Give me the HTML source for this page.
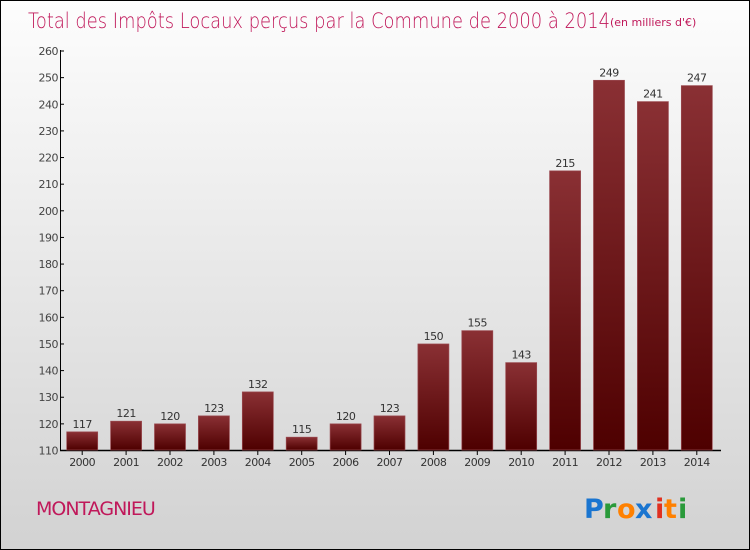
<!DOCTYPE html>
<html><head><meta charset="utf-8"><style>
body{margin:0}
#wrap{position:relative;width:748px;height:548px;border:1px solid #000;background:linear-gradient(#fdfdfd,#d2d2d2);font-family:"DejaVu Sans","Liberation Sans",sans-serif;overflow:hidden}
</style></head><body>
<div id="wrap">
<svg width="748" height="548" id="svg">
<defs><linearGradient id="bg" x1="0" y1="0" x2="0" y2="1"><stop offset="0" stop-color="#8a3034"/><stop offset="1" stop-color="#4e0000"/></linearGradient></defs>
<text x="27" y="27" font-size="21" fill="#c0185a" font-family="DejaVu Sans" font-weight="200" textLength="582" lengthAdjust="spacingAndGlyphs">Total des Impôts Locaux perçus par la Commune de 2000 à 2014</text>
<text x="609" y="25" font-size="11" fill="#c0185a">(en milliers d'€)</text>
<g id="axes"></g><g id="bars"></g>
<text x="35" y="514" font-size="19" fill="#c0185a" letter-spacing="-1">MONTAGNIEU</text>
<g font-size="27" font-family="DejaVu Sans" font-weight="bold">
<text x="583" y="517" fill="#1a75d0">P</text><text x="602" y="517" fill="#2a9a3a">r</text><text x="616" y="517" fill="#ff8000">o</text><text x="634" y="517" fill="#1a75d0">x</text><text x="654" y="517" fill="#e03020">i</text><text x="663" y="517" fill="#ff8000">t</text><text x="677" y="517" fill="#2a9a3a">i</text></g>
</svg></div>
<script>
const years=["2000","2001","2002","2003","2004","2005","2006","2007","2008","2009","2010","2011","2012","2013","2014"];
const values=[117,121,120,123,132,115,120,123,150,155,143,215,249,241,247];
const ticks=[110,120,130,140,150,160,170,180,190,200,210,220,230,240,250,260];
const NS="http://www.w3.org/2000/svg";
const y=v=>449.5-(v-110)*(399.5/150);
const xc=i=>81.2+43.9*i;
function mk(t,a,p){const e=document.createElementNS(NS,t);for(const k in a)e.setAttribute(k,a[k]);p.appendChild(e);return e;}
const ax=document.getElementById('axes'),bs=document.getElementById('bars');
let l=mk('line',{x1:59.5,y1:49,x2:59.5,y2:450,stroke:'#000'},ax);


l=mk('line',{x1:59,y1:449.5,x2:720,y2:449.5,stroke:'#000','stroke-width':1.5},ax);


ticks.forEach(t=>{mk('line',{x1:59,y1:y(t),x2:63,y2:y(t),stroke:'#000'},ax);
const tx=mk('text',{x:57,y:y(t)+4,'font-size':11,fill:'#444','text-anchor':'end','letter-spacing':'-0.5'},ax);tx.textContent=t;

});
years.forEach((yr,i)=>{const x=xc(i);
mk('line',{x1:x,y1:449,x2:x,y2:454,stroke:'#000'},ax);
const tx=mk('text',{x:x,y:465,'font-size':11,fill:'#333','text-anchor':'middle','letter-spacing':'-0.5'},ax);tx.textContent=yr;


const b=mk('rect',{x:x-15.5,y:y(values[i]),width:31,height:449-y(values[i]),fill:'url(#bg)',stroke:'#9a4a50','stroke-width':0.7},bs);


const v=mk('text',{x:x,y:y(values[i])-4,'font-size':11,fill:'#333','text-anchor':'middle','letter-spacing':'-0.5'},bs);v.textContent=values[i];

});
</script>
</body></html>
